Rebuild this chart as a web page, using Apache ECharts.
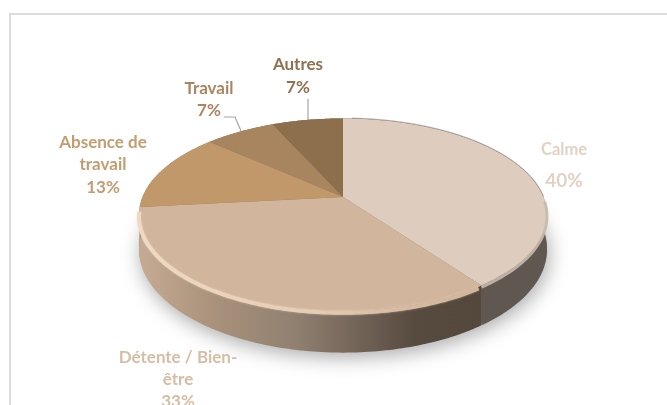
<!DOCTYPE html>
<html>
<head>
<meta charset="utf-8">
<style>
    html, body { margin: 0; padding: 0; background: #fff; }
    #main { width: 667px; height: 405px; }
</style>
</head>
<body>
<div id="main"></div>
<script src="https://cdn.jsdelivr.net/npm/echarts@6/dist/echarts.min.js"></script>
<script type="text/javascript">
    // data
    var categories = ['Calme', 'Détente / Bien-être', 'Absence de travail', 'Travail', 'Autres'];
    var values = [40, 33.3, 13.3, 6.7, 6.7];
    var labelNames = ['Calme', 'Détente / Bien-\nêtre', 'Absence de\ntravail', 'Travail', 'Autres'];

    // styles and layout
    var topColors = ['#decdbe', '#d1b59c', '#c09869', '#a9855f', '#8d6f4e'];
    var textColors = ['#e2d2c5', '#d6bda6', '#c49c71', '#ab8560', '#8f714f'];
    var detenteWall = {
        type: 'linear', x: 143, y: 0, x2: 482, y2: 0, global: true,
        colorStops: [
            {offset: 0, color: '#c4aa92'},
            {offset: 0.2, color: '#aa927c'},
            {offset: 0.45, color: '#908070'},
            {offset: 0.62, color: '#75665a'},
            {offset: 0.8, color: '#574a3e'},
            {offset: 1, color: '#54473b'}
        ]
    };
    var wallColors = ['#5f5750', detenteWall, '#8a7258', '#776247', '#5f4e38'];
    var labelPos = [
        {x: 564, y: 150, size: 16.5, pctY: 181, pctSize: 19},
        {x: 178, y: 358, size: 17, pctY: 402, pctSize: 17},
        {x: 103, y: 143, size: 17, pctY: 188, pctSize: 17},
        {x: 209, y: 89, size: 17, pctY: 111, pctSize: 17},
        {x: 298, y: 65, size: 17, pctY: 88, pctSize: 17}
    ];

    // perspective disc: apex, radii, tilt factor, wall height
    var cx = 343, cy = 197, radX = 200.5, radY = 93, tilt = 0.184, wallH = 34;
    var total = values.reduce(function (a, b) { return a + b; }, 0);

    function project(deg, drop) {
        var t = deg * Math.PI / 180;
        var w = 1 + tilt * Math.cos(t);
        return [cx + radX * Math.sin(t) / w, cy - radY * Math.cos(t) / w + (drop || 0) / w];
    }

    function arc(from, to, drop) {
        var pts = [];
        var n = Math.max(2, Math.ceil(Math.abs(to - from)));
        for (var i = 0; i <= n; i++) {
            pts.push(project(from + (to - from) * i / n, drop));
        }
        return pts;
    }

    function renderSlice(params, api) {
        var i = params.dataIndex;
        var start = 0;
        for (var k = 0; k < i; k++) {
            start += values[k] / total * 360;
        }
        var end = start + api.value(0) / total * 360;
        var top = arc(start, end, 0);
        var wall = top.concat(arc(end, start, wallH));
        var pct = Math.round(api.value(0) / total * 100) + '%';
        var lp = labelPos[i];
        return {
            type: 'group',
            children: [
                {
                    type: 'polygon', z2: 2, shape: {points: wall},
                    style: {fill: wallColors[i]}
                },
                {
                    type: 'polygon', z2: 4, shape: {points: [[cx, cy]].concat(top)},
                    style: {fill: topColors[i]}
                },
                {
                    type: 'text', z2: 10,
                    style: {
                        text: labelNames[i], x: lp.x, y: lp.y - 11,
                        fill: textColors[i], font: 'bold ' + lp.size + 'px Lato',
                        align: 'center', verticalAlign: 'top', lineHeight: 22
                    }
                },
                {
                    type: 'text', z2: 10,
                    style: {
                        text: pct, x: lp.x, y: lp.pctY,
                        fill: textColors[i], font: 'bold ' + lp.pctSize + 'px Lato',
                        align: 'center', verticalAlign: 'middle'
                    }
                }
            ]
        };
    }

    var myChart = echarts.init(document.getElementById('main'), null, {renderer: 'canvas'});

    var option = {
        animation: false,
        backgroundColor: '#fff',
        graphic: [
            // chart frame, runs off the page at right and bottom
            {
                type: 'rect', z: 0,
                shape: {x: 10, y: 14, width: 720, height: 460},
                style: {fill: '#fff', stroke: '#dcdcdc', lineWidth: 2}
            },
            // soft shadow under the disc
            {
                type: 'polygon', z: 1,
                shape: {points: arc(0, 360, wallH - 2)},
                style: {fill: '#8a7a6a', shadowColor: 'rgba(0,0,0,0.34)', shadowBlur: 20, shadowOffsetX: 2, shadowOffsetY: 7}
            },
            // leader lines
            {
                type: 'polyline', z: 3,
                shape: {points: [[308, 99], [308, 120]]},
                style: {fill: null, stroke: '#a6a6a6', lineWidth: 1.2}
            },
            {
                type: 'polyline', z: 3,
                shape: {points: [[224, 117], [235, 117], [241, 131]]},
                style: {fill: null, stroke: '#a6a6a6', lineWidth: 1.2}
            },
            // bevel on the front rim
            {
                type: 'polyline', z: 6,
                shape: {points: arc(262, 145, 1.5)},
                style: {
                    fill: null, lineWidth: 4,
                    shadowBlur: 2, shadowColor: 'rgba(236,213,189,0.7)',
                    stroke: {
                        type: 'linear', x: 143, y: 0, x2: 470, y2: 0, global: true,
                        colorStops: [
                            {offset: 0, color: '#efd9c2'},
                            {offset: 0.5, color: '#e6cdb5'},
                            {offset: 0.8, color: '#d6baa1'},
                            {offset: 1, color: '#d1b59c'}
                        ]
                    }
                }
            },
            {
                type: 'polyline', z: 6,
                shape: {points: arc(144, 92, 1.5)},
                style: {fill: null, lineWidth: 3, stroke: 'rgba(200,186,173,0.9)'}
            },
            // dark edge on the far right rim
            {
                type: 'polyline', z: 6,
                shape: {points: arc(3, 90, -0.5)},
                style: {fill: null, lineWidth: 1, stroke: 'rgba(110,100,92,0.55)'}
            }
        ],
        series: [{
            type: 'custom',
            coordinateSystem: 'none',
            renderItem: renderSlice,
            silent: true,
            z: 4,
            data: values.map(function (v, i) {
                return {name: categories[i], value: [v]};
            })
        }]
    };

    myChart.setOption(option);
</script>
</body>
</html>
